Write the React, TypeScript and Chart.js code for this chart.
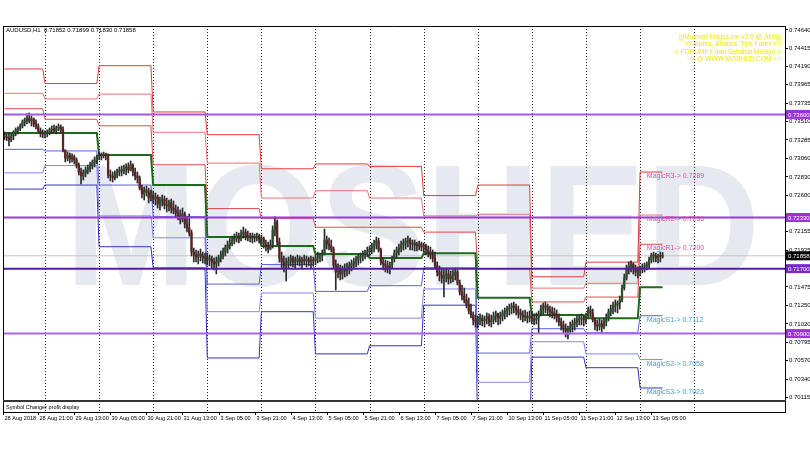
import React, { useEffect, useRef } from "react";
import { Chart, registerables } from "chart.js";
Chart.register(...registerables);

// ---------- texts ----------
const symbolTitle = "AUDUSD,H1  0.71852 0.71899 0.71830 0.71858";
const infoLines = [
  "|||Moshed MagicLine v3.0 @ AMI|||",
  "== Berita, Analisa, Tips Forex ==",
  "= FORUMFX dan Sahabat Melayu =",
  "=> @ WWW.MOSHED.COM <=",
];
const subWindowTitle = "Symbol Changer profit display";
const watermark = "MOSHED";

// ---------- x axis: hourly bar index counted from 28 Aug 2018 00:00 (weekend skipped) ----------
const xMin = 5.37;
const xMax = 352.3;
const timeTickBars = [5.37, 21, 37, 53, 69, 85, 101, 117, 133, 149, 165, 181, 197, 213, 229, 245, 261, 277, 293];
const timeTickLabels = [
  "28 Aug 2018", "28 Aug 21:00", "29 Aug 13:00", "30 Aug 05:00", "30 Aug 21:00", "31 Aug 13:00",
  "3 Sep 05:00", "3 Sep 21:00", "4 Sep 13:00", "5 Sep 05:00", "5 Sep 21:00", "6 Sep 13:00",
  "7 Sep 05:00", "7 Sep 21:00", "10 Sep 13:00", "11 Sep 05:00", "11 Sep 21:00", "12 Sep 13:00", "13 Sep 05:00",
];
const daySeparatorBars = [24, 48, 72, 96, 120, 144, 168, 192, 216, 240, 264, 288, 312];

// ---------- y axis ----------
const yMin = 0.70082;
const yMax = 0.74689;
const yTickValues = [0.7464, 0.74415, 0.7419, 0.73965, 0.73735, 0.7351, 0.73285, 0.7306, 0.7283, 0.726,
  0.72155, 0.71925, 0.71475, 0.7125, 0.7102, 0.70795, 0.7057, 0.7034, 0.70115];

// ---------- MagicLine daily pivots (28 Aug .. 13 Sep) ----------
const dayStartBars = [0, 24, 48, 72, 96, 120, 144, 168, 192, 216, 240, 264, 288];
const pivotR3 = [0.7416, 0.7398, 0.7420, 0.7363, 0.7335, 0.7293, 0.7299, 0.7296, 0.7260, 0.7273, 0.7160, 0.7178, 0.7289];
const pivotR2 = [0.7386, 0.7379, 0.7385, 0.7338, 0.7300, 0.7257, 0.7266, 0.7257, 0.7235, 0.7237, 0.7146, 0.7152, 0.7236];
const pivotR1 = [0.7367, 0.7354, 0.7346, 0.7298, 0.7244, 0.7232, 0.7221, 0.7221, 0.7215, 0.7170, 0.7129, 0.7135, 0.7200];
const pivotP = [0.7337, 0.7337, 0.7310, 0.7273, 0.7209, 0.7198, 0.7188, 0.7183, 0.7189, 0.7134, 0.7113, 0.7109, 0.7147];
const pivotS1 = [0.7317, 0.7315, 0.7273, 0.7234, 0.7151, 0.7175, 0.7142, 0.7149, 0.7171, 0.7066, 0.7096, 0.7091, 0.7112];
const pivotS2 = [0.7288, 0.7297, 0.7235, 0.7208, 0.7117, 0.7140, 0.7109, 0.7109, 0.7145, 0.7030, 0.7080, 0.7065, 0.7058];
const pivotS3 = [0.7268, 0.7273, 0.7197, 0.7171, 0.7060, 0.7117, 0.7065, 0.7075, 0.7125, 0.6963, 0.7061, 0.7048, 0.7023];

// ---------- horizontal levels ----------
const levelLines = [0.736, 0.7233, 0.717, 0.709];
const levelColors = ["#a05ae6", "#9a3ade", "#561ca6", "#a866ea"];
const bidPrice = 0.71858;

// ---------- H1 candles (points x 1e-5), first bar index 6 ----------
const firstBar = 6;
const firstOpen = 73360;
const highs = [
  73385, 73361, 73373, 73361, 73398, 73433, 73446, 73483, 73532, 73556,
  73606, 73618, 73581, 73556, 73532, 73483, 73433, 73410, 73398, 73410,
  73433, 73458, 73470, 73458, 73483, 73470, 73446, 73162, 73137, 73125,
  73113, 73100, 73063, 73002, 72940, 72916, 72953, 72977, 73014, 73039,
  73076, 73100, 73137, 73125, 73137, 73125, 73113, 72916, 72891, 72904,
  72928, 72953, 72965, 72977, 72990, 73002, 73027, 72990, 72940, 72891,
  72842, 72730, 72706, 72718, 72693, 72669, 72657, 72632, 72607, 72583,
  72607, 72595, 72570, 72546, 72558, 72534, 72484, 72460, 72423, 72447,
  72398, 72349, 72374, 72176, 71954, 71930, 71918, 71942, 71905, 71893,
  71893, 71868, 71856, 71831, 71844, 71868, 71918, 71954, 71991, 72041,
  72077, 72102, 72127, 72151, 72139, 72176, 72213, 72188, 72164, 72139,
  72139, 72127, 72139, 72127, 72114, 72090, 72053, 72028, 72053, 72226,
  72337, 72300, 72077, 71905, 71856, 71831, 71844, 71868, 71856, 71844,
  71868, 71856, 71844, 71868, 71856, 71844, 71856, 71844, 71868, 71905,
  71893, 71930, 72188, 72102, 72077, 72053, 71967, 71807, 71758, 71745,
  71733, 71758, 71770, 71782, 71807, 71831, 71856, 71868, 71893, 71918,
  71930, 71967, 71979, 72016, 72053, 72090, 72077, 71954, 71831, 71807,
  71795, 71782, 71856, 71930, 71967, 72004, 72041, 72065, 72077, 72102,
  72077, 72053, 72053, 72028, 72041, 72028, 72016, 72004, 71979, 71967,
  71930, 71905, 71782, 71733, 71708, 71684, 71696, 71684, 71672, 71684,
  71708, 71684, 71560, 71498, 71462, 71388, 71339, 71265, 71166, 71129,
  71117, 71142, 71129, 71117, 71154, 71142, 71129, 71166, 71179, 71154,
  71166, 71191, 71215, 71240, 71265, 71277, 71289, 71265, 71240, 71203,
  71179, 71191, 71166, 71179, 71166, 71142, 71154, 71179, 71252, 71277,
  71289, 71265, 71240, 71228, 71215, 71191, 71142, 71092, 71056, 71019,
  70994, 71043, 71068, 71092, 71117, 71129, 71142, 71117, 71154, 71228,
  71240, 71203, 71092, 71068, 71080, 71068, 71092, 71142, 71203, 71252,
  71289, 71314, 71302, 71363, 71498, 71634, 71745, 71782, 71795, 71770,
  71745, 71721, 71733, 71758, 71770, 71782, 71844, 71893, 71905, 71893,
  71881, 71905, 71899,
];
const lows = [
  73287, 73275, 73213, 73262, 73287, 73336, 73361, 73398, 73433, 73458,
  73483, 73495, 73458, 73446, 73421, 73373, 73324, 73311, 73311, 73324,
  73348, 73361, 73373, 73361, 73398, 73373, 73137, 73014, 73027, 73002,
  73014, 72990, 72940, 72854, 72743, 72792, 72830, 72867, 72891, 72928,
  72953, 72990, 73039, 73039, 73063, 73039, 72817, 72780, 72767, 72792,
  72817, 72842, 72842, 72867, 72854, 72879, 72904, 72842, 72792, 72755,
  72669, 72570, 72546, 72595, 72509, 72534, 72509, 72484, 72447, 72423,
  72472, 72435, 72398, 72411, 72386, 72374, 72337, 72300, 72251, 72275,
  72201, 72151, 72102, 71856, 71782, 71782, 71758, 71795, 71770, 71758,
  71745, 71733, 71708, 71684, 71635, 71733, 71782, 71819, 71856, 71893,
  71942, 71979, 72004, 72028, 72016, 72041, 72077, 72053, 72041, 72028,
  72016, 72028, 72041, 72016, 72004, 71954, 71918, 71893, 71930, 71954,
  72102, 71991, 71782, 71708, 71659, 71548, 71708, 71733, 71721, 71708,
  71745, 71733, 71696, 71745, 71721, 71733, 71708, 71733, 71745, 71770,
  71782, 71795, 71868, 71942, 71930, 71905, 71708, 71437, 71585, 71560,
  71573, 71597, 71610, 71634, 71672, 71696, 71721, 71745, 71770, 71795,
  71819, 71844, 71856, 71881, 71905, 71942, 71905, 71745, 71684, 71659,
  71647, 71634, 71708, 71782, 71831, 71868, 71905, 71930, 71942, 71967,
  71930, 71930, 71918, 71918, 71930, 71918, 71905, 71868, 71844, 71819,
  71782, 71708, 71610, 71548, 71523, 71351, 71536, 71511, 71523, 71536,
  71560, 71498, 71375, 71314, 71277, 71215, 71142, 71092, 71006, 70981,
  70969, 71006, 70994, 70981, 71019, 70994, 70981, 71019, 71043, 71006,
  71019, 71056, 71080, 71105, 71129, 71142, 71154, 71129, 71092, 71068,
  71043, 71056, 71031, 71043, 71019, 71006, 71019, 70907, 71117, 71142,
  71154, 71129, 71105, 71092, 71080, 71043, 70994, 70944, 70907, 70858,
  70833, 70895, 70919, 70944, 70981, 71006, 71006, 70994, 71019, 71092,
  71105, 71043, 70944, 70932, 70944, 70919, 70957, 70994, 71056, 71117,
  71142, 71166, 71154, 71203, 71289, 71437, 71560, 71634, 71659, 71634,
  71610, 71585, 71610, 71647, 71659, 71684, 71708, 71770, 71782, 71782,
  71770, 71782, 71830,
];
const closes = [
  73324, 73311, 73287, 73336, 73373, 73410, 73421, 73458, 73507, 73532,
  73556, 73520, 73544, 73483, 73458, 73398, 73373, 73361, 73361, 73385,
  73410, 73421, 73398, 73433, 73446, 73410, 73162, 73063, 73100, 73051,
  73076, 73039, 72977, 72891, 72842, 72879, 72916, 72940, 72977, 73002,
  73039, 73076, 73100, 73088, 73113, 73100, 72854, 72842, 72817, 72867,
  72891, 72916, 72904, 72940, 72953, 72916, 72977, 72891, 72842, 72817,
  72693, 72620, 72669, 72644, 72570, 72607, 72558, 72583, 72497, 72534,
  72558, 72484, 72472, 72509, 72447, 72423, 72386, 72349, 72312, 72374,
  72251, 72201, 72139, 71905, 71868, 71844, 71881, 71856, 71831, 71844,
  71807, 71819, 71782, 71758, 71782, 71831, 71868, 71905, 71954, 71991,
  72016, 72053, 72077, 72102, 72065, 72127, 72151, 72102, 72090, 72102,
  72077, 72090, 72102, 72065, 72077, 72004, 71979, 71942, 71991, 72176,
  72275, 72028, 71831, 71782, 71733, 71770, 71795, 71831, 71782, 71795,
  71819, 71782, 71807, 71795, 71819, 71782, 71807, 71795, 71831, 71856,
  71868, 71893, 72053, 72004, 71979, 71942, 71745, 71659, 71708, 71634,
  71684, 71672, 71708, 71733, 71758, 71782, 71807, 71844, 71856, 71881,
  71905, 71918, 71942, 71979, 72004, 72041, 71930, 71782, 71758, 71733,
  71708, 71745, 71831, 71893, 71930, 71954, 71991, 72016, 72041, 72053,
  72004, 72016, 71991, 71979, 72004, 71967, 71979, 71930, 71905, 71868,
  71831, 71733, 71659, 71622, 71585, 71610, 71634, 71573, 71610, 71622,
  71659, 71523, 71412, 71363, 71314, 71252, 71179, 71129, 71068, 71043,
  71080, 71092, 71056, 71080, 71105, 71043, 71068, 71117, 71142, 71092,
  71117, 71154, 71179, 71203, 71215, 71240, 71228, 71191, 71154, 71129,
  71105, 71117, 71092, 71117, 71080, 71068, 71092, 71142, 71203, 71240,
  71228, 71191, 71166, 71154, 71129, 71092, 71043, 71006, 70957, 70932,
  70944, 70981, 71019, 71043, 71068, 71080, 71092, 71068, 71117, 71191,
  71154, 71068, 71006, 70994, 71019, 70981, 71043, 71092, 71166, 71203,
  71240, 71252, 71277, 71314, 71462, 71585, 71708, 71733, 71758, 71708,
  71659, 71684, 71696, 71721, 71733, 71745, 71807, 71868, 71856, 71831,
  71856, 71852, 71858,
];

const FONT = "Liberation Sans";

export default function App() {
  const ref = useRef<HTMLCanvasElement>(null);

  useEffect(() => {
    const canvas = ref.current;
    if (!canvas) return;
    const lastBar = firstBar + closes.length - 1;
    const opens = closes.map((c, k) => (k === 0 ? firstOpen : closes[k - 1]));

    const stepPoints = (vals: number[]) => {
      const pts: { x: number; y: number }[] = [];
      vals.forEach((v, k) => {
        const s = Math.max(dayStartBars[k], firstBar);
        const e = Math.min(dayStartBars[k] + 23, lastBar);
        pts.push({ x: s, y: v }, { x: e, y: v });
      });
      return pts;
    };
    const pivotLine = (vals: number[], color: string, width: number) => ({
      type: "line" as const,
      data: stepPoints(vals),
      borderColor: color,
      borderWidth: width,
      pointRadius: 0,
      fill: false,
      tension: 0,
      order: 3,
    });

    const wickData = highs.map((h, k) => ({ x: firstBar + k, y: [lows[k] / 1e5, h / 1e5] }));
    const bodyData = closes.map((c, k) => ({ x: firstBar + k, y: [opens[k] / 1e5, c / 1e5] }));
    const bodyColors = closes.map((c, k) => (c >= opens[k] ? "#2c4e2c" : "#5e2020"));

    const datasets: any[] = [
      {
        type: "line",
        data: [{ x: xMin, y: bidPrice }, { x: xMax, y: bidPrice }],
        borderColor: "#c4c4c4",
        borderWidth: 1,
        pointRadius: 0,
        order: 5,
      },
      pivotLine(pivotR3, "#e23a3a", 1),
      pivotLine(pivotR2, "#ee7272", 1),
      pivotLine(pivotR1, "#e04a4a", 1),
      pivotLine(pivotS1, "#5c5ce0", 1),
      pivotLine(pivotS2, "#8484f0", 1),
      pivotLine(pivotS3, "#3232c4", 1),
      { ...pivotLine(pivotP, "#1d6a1d", 2), order: 2 },
      {
        type: "bar",
        data: wickData,
        backgroundColor: "#2a2a2a",
        barThickness: 1,
        grouped: false,
        order: 1,
      },
      {
        type: "bar",
        data: bodyData,
        backgroundColor: bodyColors,
        barThickness: 1.6,
        minBarLength: 1,
        grouped: false,
        order: 0,
      },
      ...levelLines.map((v, k) => ({
        type: "line",
        data: [{ x: xMin, y: v }, { x: xMax, y: v }],
        borderColor: levelColors[k],
        borderWidth: 2,
        pointRadius: 0,
        order: -1,
      })),
    ];

    const decor = {
      id: "decor",
      beforeDatasetsDraw(chart: any) {
        const { ctx, chartArea: a, scales } = chart;
        const xs = scales.x;
        ctx.save();
        ctx.beginPath();
        ctx.rect(a.left, a.top, a.right - a.left, a.bottom - a.top);
        ctx.clip();
        ctx.fillStyle = "#e7e9f1";
        ctx.font = `bold 172px "${FONT}"`;
        ctx.textAlign = "left";
        ctx.textBaseline = "alphabetic";
        ctx.fillText(watermark, 65, 285, 695);
        ctx.restore();

        ctx.save();
        ctx.strokeStyle = "#222";
        ctx.lineWidth = 1;
        ctx.setLineDash([1, 2]);
        daySeparatorBars.forEach((b) => {
          const px = Math.round(xs.getPixelForValue(b)) + 0.5;
          ctx.beginPath();
          ctx.moveTo(px, a.top);
          ctx.lineTo(px, 413);
          ctx.stroke();
        });
        ctx.restore();
      },
      afterDraw(chart: any) {
        const { ctx, chartArea: a, scales } = chart;
        const xs = scales.x;
        const ys = scales.y;
        const subBottom = 412;
        ctx.save();
        ctx.setLineDash([]);
        // frame
        ctx.strokeStyle = "#000";
        ctx.lineWidth = 1;
        ctx.beginPath();
        ctx.moveTo(a.left + 0.5, a.top);
        ctx.lineTo(a.left + 0.5, subBottom + 1);
        ctx.moveTo(a.left, a.top + 0.5);
        ctx.lineTo(a.right + 1, a.top + 0.5);
        ctx.moveTo(a.right + 0.5, a.top);
        ctx.lineTo(a.right + 0.5, subBottom + 1);
        ctx.moveTo(a.left, subBottom + 0.5);
        ctx.lineTo(a.right + 1, subBottom + 0.5);
        ctx.stroke();
        ctx.fillStyle = "#333";
        ctx.fillRect(a.left, a.bottom, a.right - a.left + 1, 2);

        // sub window title
        ctx.fillStyle = "#000";
        ctx.font = `5.5px "${FONT}"`;
        ctx.textAlign = "left";
        ctx.textBaseline = "middle";
        ctx.fillText(subWindowTitle, a.left + 3, 407);

        // time axis
        ctx.font = `5.6px "${FONT}"`;
        timeTickBars.forEach((b, k) => {
          const px = Math.round(xs.getPixelForValue(b)) + 0.5;
          ctx.beginPath();
          ctx.moveTo(px, subBottom);
          ctx.lineTo(px, subBottom + 3);
          ctx.stroke();
          ctx.fillText(timeTickLabels[k], px + 1, 418.5);
        });

        // header
        ctx.font = `6px "${FONT}"`;
        ctx.fillText(symbolTitle, a.left + 3, a.top + 4.5);

        // info text
        ctx.fillStyle = "#f0e41c";
        ctx.font = `6.6px "${FONT}"`;
        ctx.textAlign = "right";
        infoLines.forEach((t, k) => ctx.fillText(t, a.right - 4, 37 + k * 7.4));

        // magic labels on the current day
        const labelX = xs.getPixelForValue(dayStartBars[dayStartBars.length - 1] + 3);
        const last = pivotR3.length - 1;
        const magic: [string, number, string][] = [
          ["R3", pivotR3[last], "#e4509a"],
          ["R2", pivotR2[last], "#e4509a"],
          ["R1", pivotR1[last], "#e4509a"],
          ["S1", pivotS1[last], "#3a9ee0"],
          ["S2", pivotS2[last], "#3a9ee0"],
          ["S3", pivotS3[last], "#3a9ee0"],
        ];
        ctx.textAlign = "left";
        ctx.font = `7px "${FONT}"`;
        magic.forEach(([n, v, c]) => {
          ctx.fillStyle = c;
          ctx.fillText(`Magic${n}-> ${v.toFixed(4)}`, labelX, ys.getPixelForValue(v) + 4);
        });

        // price boxes on the axis
        const box = (v: number, bg: string) => {
          const py = ys.getPixelForValue(v);
          ctx.fillStyle = bg;
          ctx.fillRect(a.right + 1, py - 4.5, 810 - a.right - 1, 9);
          ctx.fillStyle = "#fff";
          ctx.font = `6px "${FONT}"`;
          ctx.textAlign = "left";
          ctx.fillText(v.toFixed(5), a.right + 3, py + 0.5);
        };
        levelLines.forEach((v, k) => box(v, levelColors[k] === "#561ca6" ? "#7a28c8" : "#9a32d8"));
        box(bidPrice, "#000");
        ctx.restore();
      },
    };

    const chart = new Chart(canvas, {
      type: "bar",
      data: { datasets },
      options: {
        animation: false,
        responsive: false,
        devicePixelRatio: 1,
        layout: { padding: { left: 3, top: 26, right: 0, bottom: 0 } },
        plugins: { legend: { display: false }, tooltip: { enabled: false } },
        scales: {
          x: {
            type: "linear",
            min: xMin,
            max: xMax,
            offset: false,
            grid: { display: false, offset: false },
            border: { display: false },
            ticks: { display: false },
            afterFit: (s: any) => {
              s.height = 50;
            },
          },
          y: {
            type: "linear",
            position: "right",
            min: yMin,
            max: yMax,
            grid: { drawOnChartArea: false, tickLength: 3, color: "#000" },
            border: { display: true, color: "#000" },
            ticks: {
              padding: 1,
              color: "#000",
              autoSkip: false,
              font: { family: FONT, size: 6 },
              callback: (v: any) => Number(v).toFixed(5),
            },
            afterBuildTicks: (s: any) => {
              s.ticks = yTickValues.map((v) => ({ value: v }));
            },
            afterFit: (s: any) => {
              s.width = 25;
            },
          },
        },
      },
      plugins: [decor],
    } as any);
    return () => chart.destroy();
  }, []);

  return (
    <div style={{ position: "fixed", left: 0, top: 0, width: 810, height: 450, background: "#fff" }}>
      <canvas ref={ref} width={810} height={450} style={{ display: "block", width: 810, height: 450 }} />
    </div>
  );
}
